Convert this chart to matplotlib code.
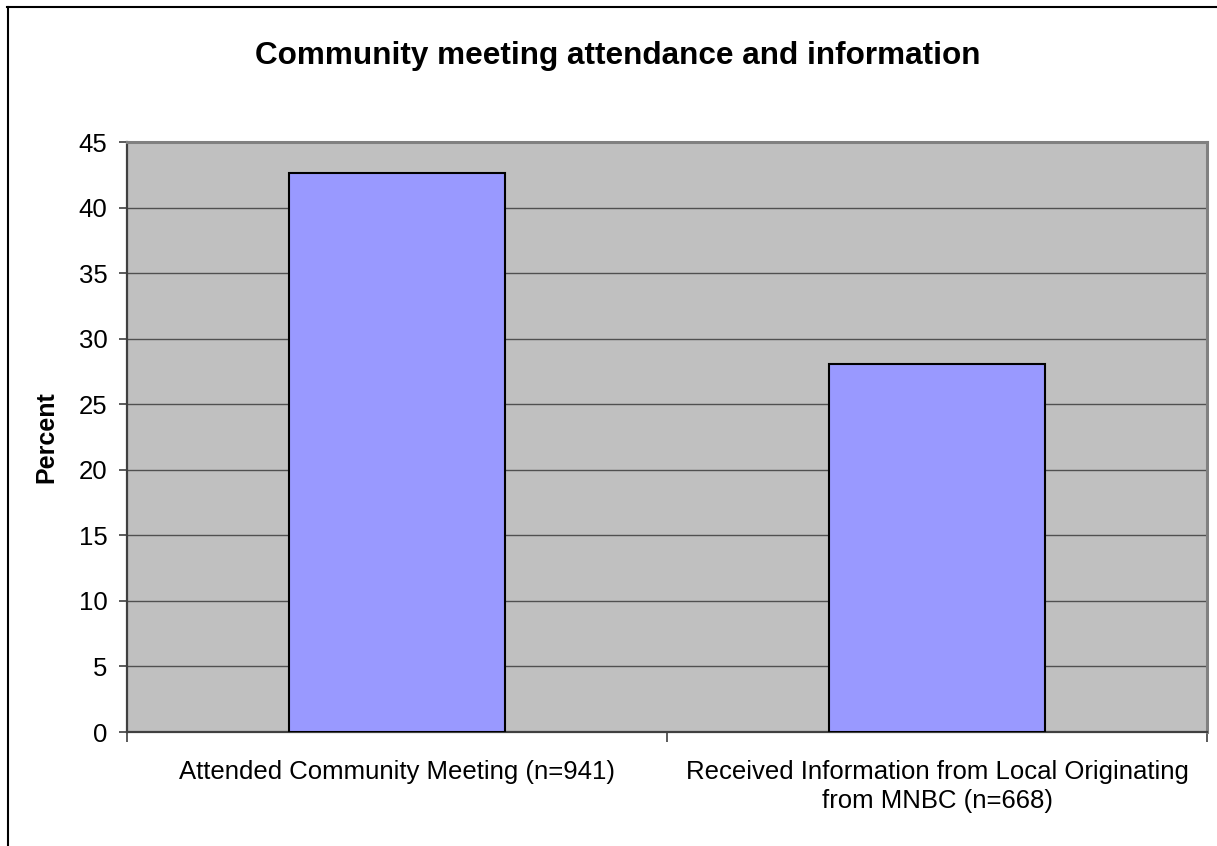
import numpy as np
import matplotlib.pyplot as plt
from matplotlib.lines import Line2D

plt.rcParams['font.family'] = ['Liberation Sans', 'DejaVu Sans']

categories = ["Attended Community Meeting (n=941)",
              "Received Information from Local Originating\nfrom MNBC (n=668)"]
percent = [42.6, 28.1]
yticks = np.arange(0, 46, 5)

fig = plt.figure(figsize=(12.17, 8.46), dpi=100)
ax = fig.add_axes([127/1217, 114/846, 1080/1217, 590/846])

x = np.arange(len(categories))
ax.bar(x, percent, width=0.4, color='#9999FF', edgecolor='black', linewidth=1.5, zorder=3)

ax.set_facecolor('#C0C0C0')
ax.set_xlim(-0.5, 1.5)
ax.set_ylim(0, 45)
ax.set_yticks(yticks)
ax.yaxis.grid(True, color='#505050', linewidth=1.0, zorder=1)
ax.set_axisbelow(True)

# category ticks sit between bars, labels centred under each bar
ax.set_xticks([-0.5, 0.5, 1.5])
ax.set_xticklabels([])
ax.set_xticks(x, minor=True)
ax.set_xticklabels(categories, minor=True, fontsize=18.5, linespacing=1.28)
ax.tick_params(axis='x', which='minor', length=0, pad=20)
ax.tick_params(axis='x', which='major', length=7, width=1.2, color='#404040')
ax.tick_params(axis='y', length=6, width=1.2, color='#404040', labelsize=18.5, pad=8)

for side in ['top', 'right']:
    ax.spines[side].set_color('#808080')
    ax.spines[side].set_linewidth(2.2)
for side in ['left', 'bottom']:
    ax.spines[side].set_color('#404040')
    ax.spines[side].set_linewidth(1.6)

ax.set_ylabel("Percent", fontsize=18, fontweight='bold', labelpad=15)

fig.text(618/1217, 1 - 64/846, "Community meeting attendance and information",
         ha='center', va='baseline', fontsize=22.7, fontweight='bold')

# outer chart frame
fig.add_artist(Line2D([7/1217, 1.0], [1 - 7.5/846, 1 - 7.5/846], color='black', linewidth=1.5))
fig.add_artist(Line2D([7.5/1217, 7.5/1217], [0, 1 - 7.5/846], color='black', linewidth=1.5))

fig.savefig("out.png", dpi=100)
